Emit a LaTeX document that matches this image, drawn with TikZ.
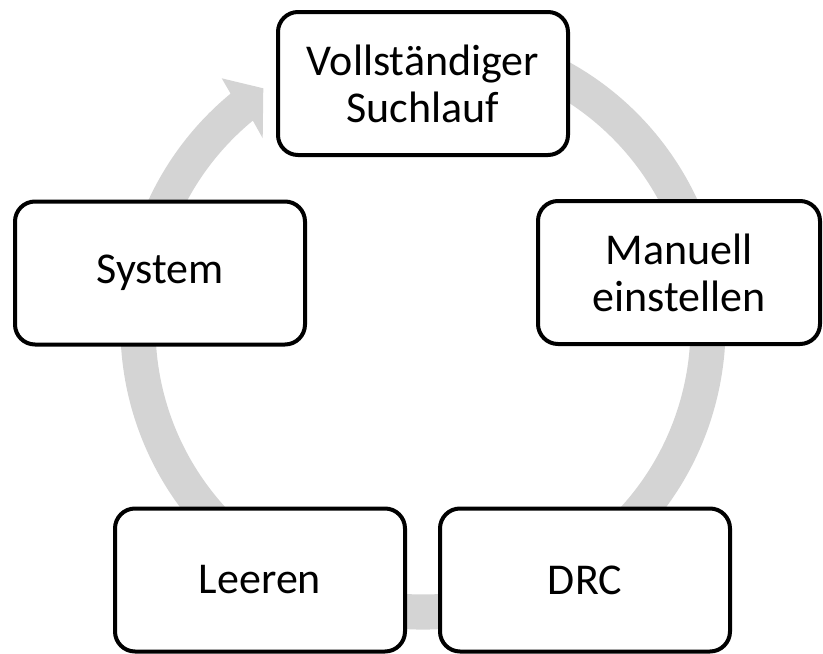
\documentclass[tikz,border=0pt]{standalone}
\usepackage{fontspec}
\setmainfont{Carlito}
\definecolor{ringgray}{RGB}{212,212,212}
\begin{document}
\begin{tikzpicture}[x=1pt,y=-1pt,
  cyclebox/.style={draw=black, line width=4pt, fill=white, rounded corners=20pt,
    align=center, inner sep=0pt, font=\fontsize{44}{47}\selectfont,
    minimum width=290pt, minimum height=143pt}]
\useasboundingbox (0,0) rectangle (823,654);
\coordinate (c) at (423,327);
% ring with arrowhead
\begin{scope}[shift={(c)}]
\fill[ringgray] (-75:302.5) arc[start angle=-75, end angle=230.5, radius=302.5]
  -- (-201.3,-248.7) -- (-159.7,-238.7) -- (-160.3,-188.7)
  -- (230.5:267.5) arc[start angle=230.5, end angle=-75, radius=267.5] -- cycle;
\end{scope}
% boxes
\node[cyclebox] (vs) at (423,83.5) {Vollständiger\\Suchlauf};
\node[cyclebox, minimum width=282pt] (me) at (679,272.5) {Manuell\\einstellen};
\node[cyclebox] (drc) at (585,580) {DRC};
\node[cyclebox] (le) at (260,580) {Leeren};
\node[cyclebox] (sy) at (160,273) {System};
\end{tikzpicture}
\end{document}
